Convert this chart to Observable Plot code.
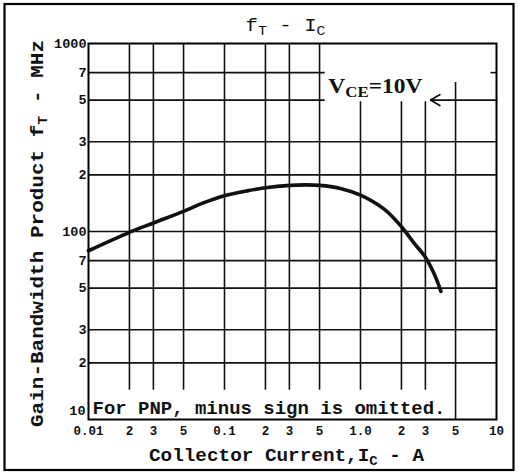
<!DOCTYPE html>
<html><head><meta charset="utf-8">
<script src="https://cdn.jsdelivr.net/npm/d3@7"></script>
<script src="https://cdn.jsdelivr.net/npm/@observablehq/plot@0.6"></script>
<style>body{margin:0;background:#fff}</style>
</head><body><div id="chart"></div>
<script>
// Curve: collector current (A) vs gain-bandwidth product (MHz)
const current = [0.01, 0.02, 0.03, 0.05, 0.07, 0.1, 0.15, 0.2, 0.3, 0.4, 0.5, 0.7, 1.0, 1.5, 2.0, 2.5, 3.0, 3.5, 3.9];
const ft      = [79,   99,   111,  128,  142,  155, 165,  171, 176, 177, 176, 170, 156, 131, 106, 86,  73,  59,  48];

// Tick labels
const xTickValues = [0.01, 0.02, 0.03, 0.05, 0.1, 0.2, 0.3, 0.5, 1, 2, 3, 5, 10];
const xTickLabels = ["0.01", "2", "3", "5", "0.1", "2", "3", "5", "1.0", "2", "3", "5", "10"];
const yTickValues = [20, 30, 50, 70, 100, 200, 300, 500, 700, 1000];
const yTickLabels = ["2", "3", "5", "7", "100", "2", "3", "5", "7", "1000"];
const yBottomValue = [10];
const yBottomLabel = ["10"];

// Grid lines (with the gaps left for the annotations)
const gridX       = [0.02, 0.03, 0.05, 0.1, 0.2, 0.3, 0.5, 1, 2, 3, 5];
const gridXTop    = [1000, 1000, 1000, 1000, 1000, 1000, 1000, 490, 490, 490, 620];
const gridXBottom = [14.3, 14.3, 14.3, 14.3, 14.3, 14.3, 14.3, 14.3, 14.3, 14.3, 10];
const gridY       = [20, 30, 50, 70, 100, 200, 300, 500, 700];
const gridYRight  = [10, 10, 10, 10, 10, 10, 10, 0.55, 0.55];
const stubLevel = [700];
const stubFrom = [9.1];
const arrowLevel = [500];
const arrowFrom = [10];
const arrowTo = [3.27];

// Texts
const titleText = "f{T} - I{C}";
const xLabel = "Collector Current,I{C} - A";
const yLabel = "Gain-Bandwidth Product f{T} - MHz";
const noteText = "For PNP, minus sign is omitted.";
const condText = "V{CE}=10V";
const condAt = {x: 0.58, y: 545};

const ink = "#111";
const mono = "'Liberation Mono', 'DejaVu Sans Mono', monospace";
const serif = "'Liberation Serif', 'DejaVu Serif', serif";

const points = current.map((x, i) => ({x, y: ft[i]}));

const chart = Plot.plot({
  width: 518,
  height: 474,
  marginLeft: 88,
  marginRight: 22,
  marginTop: 43,
  marginBottom: 55,
  style: {background: "#fff", color: ink},
  x: {type: "log", domain: [0.01, 10], axis: null},
  y: {type: "log", domain: [10, 1000], axis: null},
  marks: [
    Plot.ruleX(gridX, {x: d => d, y1: (d, i) => gridXBottom[i], y2: (d, i) => gridXTop[i], stroke: ink, strokeWidth: 1.6}),
    Plot.ruleY(gridY, {y: d => d, x1: 0.01, x2: (d, i) => gridYRight[i], stroke: ink, strokeWidth: 1.6}),
    Plot.ruleY(stubLevel, {y: d => d, x1: (d, i) => stubFrom[i], x2: 10, stroke: ink, strokeWidth: 1.6}),
    Plot.arrow(arrowLevel, {x1: (d, i) => arrowFrom[i], x2: (d, i) => arrowTo[i], y1: d => d, y2: d => d, stroke: ink, strokeWidth: 1.8, headLength: 9}),
    Plot.line(points, {x: "x", y: "y", curve: "catmull-rom", stroke: ink, strokeWidth: 3.6}),
    Plot.frame({stroke: "#000", strokeWidth: 2}),
    Plot.text(xTickValues, {x: d => d, text: (d, i) => xTickLabels[i], frameAnchor: "bottom", textAnchor: "middle", lineAnchor: "middle", dy: 11, fontFamily: mono, fontWeight: "bold", fontSize: 12.5, fill: ink}),
    Plot.text(yTickValues, {y: d => d, text: (d, i) => yTickLabels[i], frameAnchor: "left", textAnchor: "end", lineAnchor: "middle", dx: -2, fontFamily: mono, fontWeight: "bold", fontSize: 13.5, fill: ink}),
    Plot.text(yBottomValue, {y: d => d, text: (d, i) => yBottomLabel[i], frameAnchor: "left", textAnchor: "end", lineAnchor: "middle", dx: -3, dy: -9, fontFamily: mono, fontWeight: "bold", fontSize: 13.5, fill: ink}),
    Plot.text([titleText], {text: d => d, frameAnchor: "top", textAnchor: "middle", lineAnchor: "bottom", dx: -7, dy: -13, fontFamily: mono, fontSize: 19, fill: ink}),
    Plot.text([xLabel], {text: d => d, frameAnchor: "bottom", textAnchor: "middle", lineAnchor: "bottom", dx: -6, dy: 41, fontFamily: mono, fontWeight: "bold", fontSize: 18, fill: ink}),
    Plot.text([yLabel], {text: d => d, frameAnchor: "left", textAnchor: "middle", lineAnchor: "bottom", rotate: -90, dx: -46, dy: 2, fontFamily: mono, fontWeight: "bold", fontSize: 18, fill: ink}),
    Plot.text([noteText], {text: d => d, frameAnchor: "bottom-left", textAnchor: "start", lineAnchor: "bottom", dx: 4, dy: -6, fontFamily: mono, fontWeight: "bold", fontSize: 18.5, fill: ink}),
    Plot.text([condText], {x: condAt.x, y: condAt.y, text: d => d, textAnchor: "start", lineAnchor: "bottom", fontFamily: serif, fontWeight: "bold", fontSize: 21, fill: ink})
  ]
});

// Subscripts and measured text widths
const lengths = new Map([[titleText, 80], [xLabel, 275], [yLabel, 387], [noteText, 353], [condText, 94]]);
d3.select(chart).selectAll("text").each(function () {
  const t = this.textContent;
  const len = lengths.get(t);
  if (t.includes("{")) {
    const sel = d3.select(this);
    sel.text(null);
    t.split(/(\{[^}]*\})/).forEach(p => {
      if (!p) return;
      if (p.startsWith("{")) {
        sel.append("tspan").attr("font-size", "72%").attr("baseline-shift", "-28%").text(p.slice(1, -1));
      } else {
        sel.append("tspan").text(p);
      }
    });
  }
  if (len) {
    d3.select(this).attr("textLength", len).attr("lengthAdjust", "spacingAndGlyphs");
  }
});

d3.select(chart).append("rect")
  .attr("x", 4.5).attr("y", 4).attr("width", 509).attr("height", 466)
  .attr("fill", "none").attr("stroke", "#000").attr("stroke-width", 2.2);

document.getElementById("chart").append(chart);
</script>
</body></html>
